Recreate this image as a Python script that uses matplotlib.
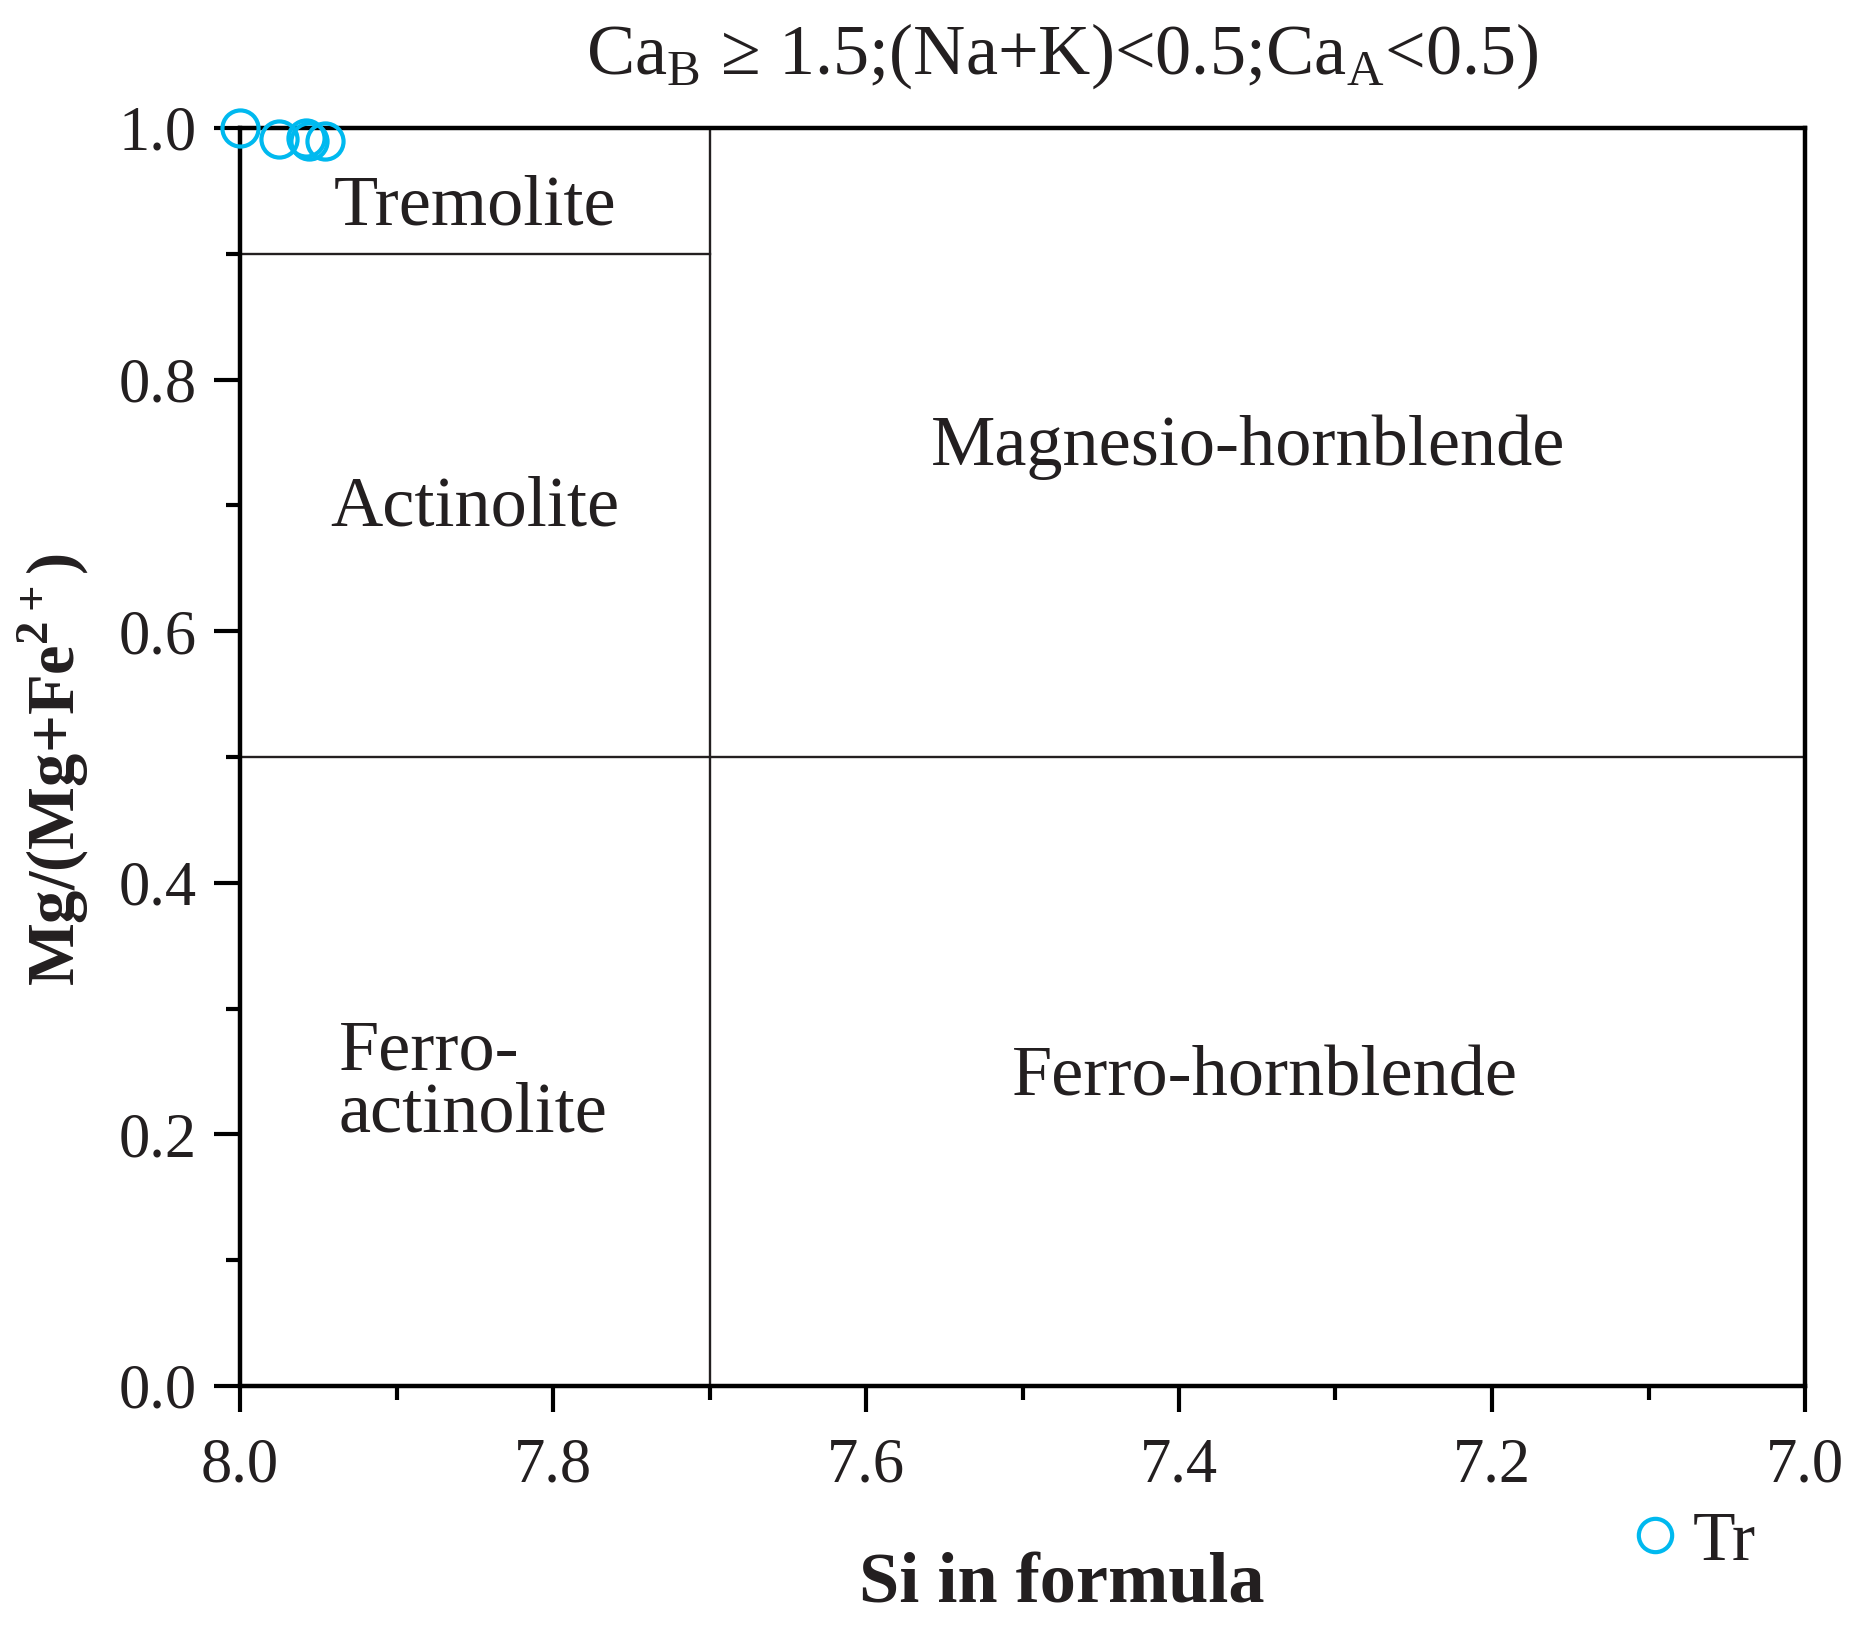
import matplotlib.pyplot as plt
from matplotlib.ticker import MultipleLocator
from matplotlib.lines import Line2D

plt.rcParams['font.family'] = ['Liberation Serif', 'DejaVu Serif']
plt.rcParams['mathtext.fontset'] = 'custom'
plt.rcParams['mathtext.rm'] = 'Liberation Serif'
plt.rcParams['mathtext.bf'] = 'Liberation Serif:bold'

ink = '#231f20'
cyan = '#00b9ef'

# Tr analyses
si = [8.0, 7.975, 7.958, 7.956, 7.946]
mg_ratio = [1.0, 0.991, 0.992, 0.990, 0.990]

# field boundaries
si_split = 7.7
mg_split = 0.5
trem_split = 0.9

fields = [
    ('Tremolite', 7.85, 0.937, 'center'),
    ('Actinolite', 7.85, 0.698, 'center'),
    ('Magnesio-hornblende', 7.356, 0.746, 'center'),
    ('Ferro-hornblende', 7.345, 0.245, 'center'),
    ('Ferro-\nactinolite', 7.937, 0.241, 'left'),
]

fig = plt.figure(figsize=(18.61, 16.37), dpi=100)
ax = fig.add_axes([240 / 1861, 1 - 1386 / 1637, 1565 / 1861, 1258 / 1637])

ax.set_xlim(8.0, 7.0)
ax.set_ylim(0.0, 1.0)

ax.plot([8.0, si_split], [trem_split, trem_split], color=ink, lw=1.7)
ax.plot([si_split, si_split], [0, 1], color=ink, lw=1.7)
ax.plot([8.0, 7.0], [mg_split, mg_split], color=ink, lw=1.7)

for label, x, y, ha in fields:
    ax.text(x, y, label, ha=ha, va='center', fontsize=52, color=ink,
            linespacing=0.95)

ax.plot(si, mg_ratio, 'o', ms=26, mfc='none', mec=cyan, mew=3,
        clip_on=False, zorder=5)

ax.xaxis.set_major_locator(MultipleLocator(0.2))
ax.xaxis.set_minor_locator(MultipleLocator(0.1))
ax.yaxis.set_major_locator(MultipleLocator(0.2))
ax.yaxis.set_minor_locator(MultipleLocator(0.1))
ax.xaxis.set_major_formatter(lambda v, p: f'{v:.1f}')
ax.yaxis.set_major_formatter(lambda v, p: f'{v:.1f}')

for s in ax.spines.values():
    s.set_linewidth(3.2)
    s.set_color('black')
ax.tick_params(which='major', direction='out', length=19, width=3,
               labelsize=45, labelcolor=ink)
ax.tick_params(axis='x', which='major', pad=18)
ax.tick_params(axis='y', which='major', pad=12)
ax.tick_params(which='minor', direction='out', length=10, width=3)

ax.set_xlabel('Si in formula', fontsize=52, fontweight='bold', color=ink)
ax.set_ylabel(r'Mg/(Mg+Fe$^{\mathbf{2+}}$)', fontsize=48, fontweight='bold',
              color=ink)
ax.xaxis.set_label_coords(0.525, -0.158)
ax.yaxis.set_label_coords(-0.1195, 0.49)
ax.xaxis.label.set_verticalalignment('center')
ax.yaxis.label.set_verticalalignment('center')

fig.text(0.571, 0.966, r'Ca$_\mathrm{B}$ ≥ 1.5;(Na+K)<0.5;Ca$_\mathrm{A}$<0.5)',
         ha='center', va='center', fontsize=52, color=ink)

handle = Line2D([], [], marker='o', ls='none', ms=24, mfc='none', mec=cyan,
                mew=3)
fig.legend([handle], ['Tr'], loc='center left',
           bbox_to_anchor=(1592 / 1861, 1 - 1543 / 1637), frameon=False,
           fontsize=50, handletextpad=0.15, borderpad=0, handlelength=0.8,
           labelcolor=ink)

fig.savefig('out.png', dpi=100, facecolor='white')
